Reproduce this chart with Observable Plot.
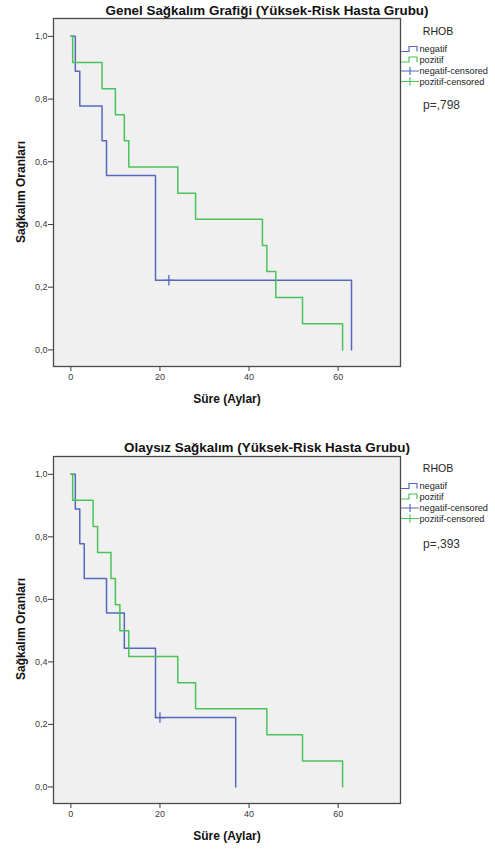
<!DOCTYPE html>
<html><head><meta charset="utf-8">
<script src="https://cdn.jsdelivr.net/npm/d3@7"></script>
<script src="https://cdn.jsdelivr.net/npm/@observablehq/plot@0.6"></script>
<style>
body{margin:0;background:#fff;font-family:"Liberation Sans",Arial,sans-serif}
#c svg{display:block}
</style>
</head><body><div id="c"></div>
<script>
const groups = ["negatif", "pozitif"];
const legendLabels = ["negatif", "pozitif", "negatif-censored", "pozitif-censored"];
const colors = ["#5668bd", "#48c457"];
const xTicks = [0, 20, 40, 60];
const yTicks = [0, 0.2, 0.4, 0.6, 0.8, 1.0];

// Chart 1: Genel Sağkalım
const genelTitle = "Genel Sağkalım Grafiği (Yüksek-Risk Hasta Grubu)";
const genelP = "p=,798";
const genelNegTime = [0, 1, 2, 7, 8, 19, 63];
const genelNegSurv = [1, 0.889, 0.778, 0.667, 0.556, 0.222, 0];
const genelNegCensTime = [22];
const genelNegCensSurv = [0.222];
const genelPozTime = [0, 0.4, 7, 10, 12, 13, 24, 28, 43, 44, 46, 52, 61];
const genelPozSurv = [1, 0.917, 0.833, 0.75, 0.667, 0.583, 0.5, 0.417, 0.333, 0.25, 0.167, 0.083, 0];

// Chart 2: Olaysız Sağkalım
const olaysizTitle = "Olaysız Sağkalım (Yüksek-Risk Hasta Grubu)";
const olaysizP = "p=,393";
const olaysizNegTime = [0, 1, 2, 3, 8, 12, 19, 37];
const olaysizNegSurv = [1, 0.889, 0.778, 0.667, 0.556, 0.444, 0.222, 0];
const olaysizNegCensTime = [20];
const olaysizNegCensSurv = [0.222];
const olaysizPozTime = [0, 0.4, 5, 6, 9, 10, 11, 13, 24, 28, 44, 52, 61];
const olaysizPozSurv = [1, 0.917, 0.833, 0.75, 0.667, 0.583, 0.5, 0.417, 0.333, 0.25, 0.167, 0.083, 0];

const xLabel = "Süre (Aylar)";
const yLabel = "Sağkalım Oranları";
const legendTitle = "RHOB";
const FONT = "'Liberation Sans', Arial, sans-serif";

function rows(ts, ss) { return ts.map((t, i) => ({t, s: ss[i]})); }

function makeChart(cfg) {
  const neg = rows(cfg.negT, cfg.negS);
  const poz = rows(cfg.pozT, cfg.pozS);
  const cens = rows(cfg.censT, cfg.censS);
  const svg = Plot.plot({
    width: 495, height: cfg.height,
    marginTop: cfg.marginTop, marginBottom: cfg.marginBottom,
    marginLeft: 53, marginRight: 95,
    x: {domain: [-3.9, 74]},
    y: {domain: [-0.053, 1.057]},
    style: {fontFamily: FONT, fontSize: "9px", color: "#3a3a3a", background: "transparent"},
    marks: [
      Plot.frame({fill: "#f0f0f0", stroke: null}),
      Plot.line(neg, {x: "t", y: "s", curve: "step-after", stroke: colors[0], strokeWidth: 1.5}),
      Plot.line(poz, {x: "t", y: "s", curve: "step-after", stroke: colors[1], strokeWidth: 1.5}),
      Plot.dot(cens, {x: "t", y: "s", symbol: "plus", r: 3.5, stroke: colors[0], strokeWidth: 1.3}),
      Plot.axisX({ticks: xTicks, tickSize: 5, tickPadding: 2, label: null, tickFormat: d => String(d)}),
      Plot.axisY({ticks: yTicks, tickSize: 5, tickPadding: 1, label: null, tickFormat: d => d.toFixed(1).replace(".", ",")}),
      Plot.frame({stroke: "#4a4a4a", strokeWidth: 1.3})
    ]
  });
  const s = d3.select(svg);
  s.append("text").attr("x", 267).attr("y", 15).attr("text-anchor", "middle")
    .attr("font-size", "13.4px").attr("font-weight", "bold").attr("fill", "#111").attr("font-family", FONT)
    .text(cfg.title);
  s.append("text").attr("x", 227).attr("y", 403).attr("text-anchor", "middle")
    .attr("font-size", "12px").attr("font-weight", "bold").attr("fill", "#111").attr("font-family", FONT)
    .text(xLabel);
  s.append("text").attr("transform", "translate(25,192) rotate(-90)").attr("text-anchor", "middle")
    .attr("font-size", "12px").attr("font-weight", "bold").attr("fill", "#111").attr("font-family", FONT)
    .text(yLabel);
  // legend
  const lg = s.append("g").attr("font-family", FONT).attr("fill", "#222").attr("text-anchor", "start");
  lg.append("text").attr("x", 438).attr("y", 34.5).attr("text-anchor", "middle").attr("font-size", "10.5px").text(legendTitle);
  const rowsY = [49, 59.5, 71, 81.5];
  legendLabels.forEach((lab, i) => {
    const c = rowsY[i];
    const col = colors[i % 2];
    if (i < 2) {
      lg.append("path").attr("d", `M401,${c + 2.5}H409V${c - 2.5}H417V${c + 2.5}`)
        .attr("fill", "none").attr("stroke", col).attr("stroke-width", 1.2);
    } else {
      lg.append("path").attr("d", `M401,${c}H419M410,${c - 4}V${c + 4}`)
        .attr("fill", "none").attr("stroke", col).attr("stroke-width", 1.2);
    }
    lg.append("text").attr("x", 419.5).attr("y", c + 3.2).attr("text-anchor", "start").attr("font-size", "9.2px").text(lab);
  });
  lg.append("text").attr("x", 423).attr("y", cfg.pY + 4.3).attr("text-anchor", "start").attr("font-size", "12px").attr("fill", "#333").text(cfg.p);
  return svg;
}

const root = document.getElementById("c");
root.appendChild(makeChart({
  title: genelTitle, p: genelP, pY: 105,
  negT: genelNegTime, negS: genelNegSurv, censT: genelNegCensTime, censS: genelNegCensSurv,
  pozT: genelPozTime, pozS: genelPozSurv,
  height: 437, marginTop: 18, marginBottom: 71
}));
root.appendChild(makeChart({
  title: olaysizTitle, p: olaysizP, pY: 107,
  negT: olaysizNegTime, negS: olaysizNegSurv, censT: olaysizNegCensTime, censS: olaysizNegCensSurv,
  pozT: olaysizPozTime, pozS: olaysizPozSurv,
  height: 413, marginTop: 19, marginBottom: 47
}));
</script>
</body></html>
